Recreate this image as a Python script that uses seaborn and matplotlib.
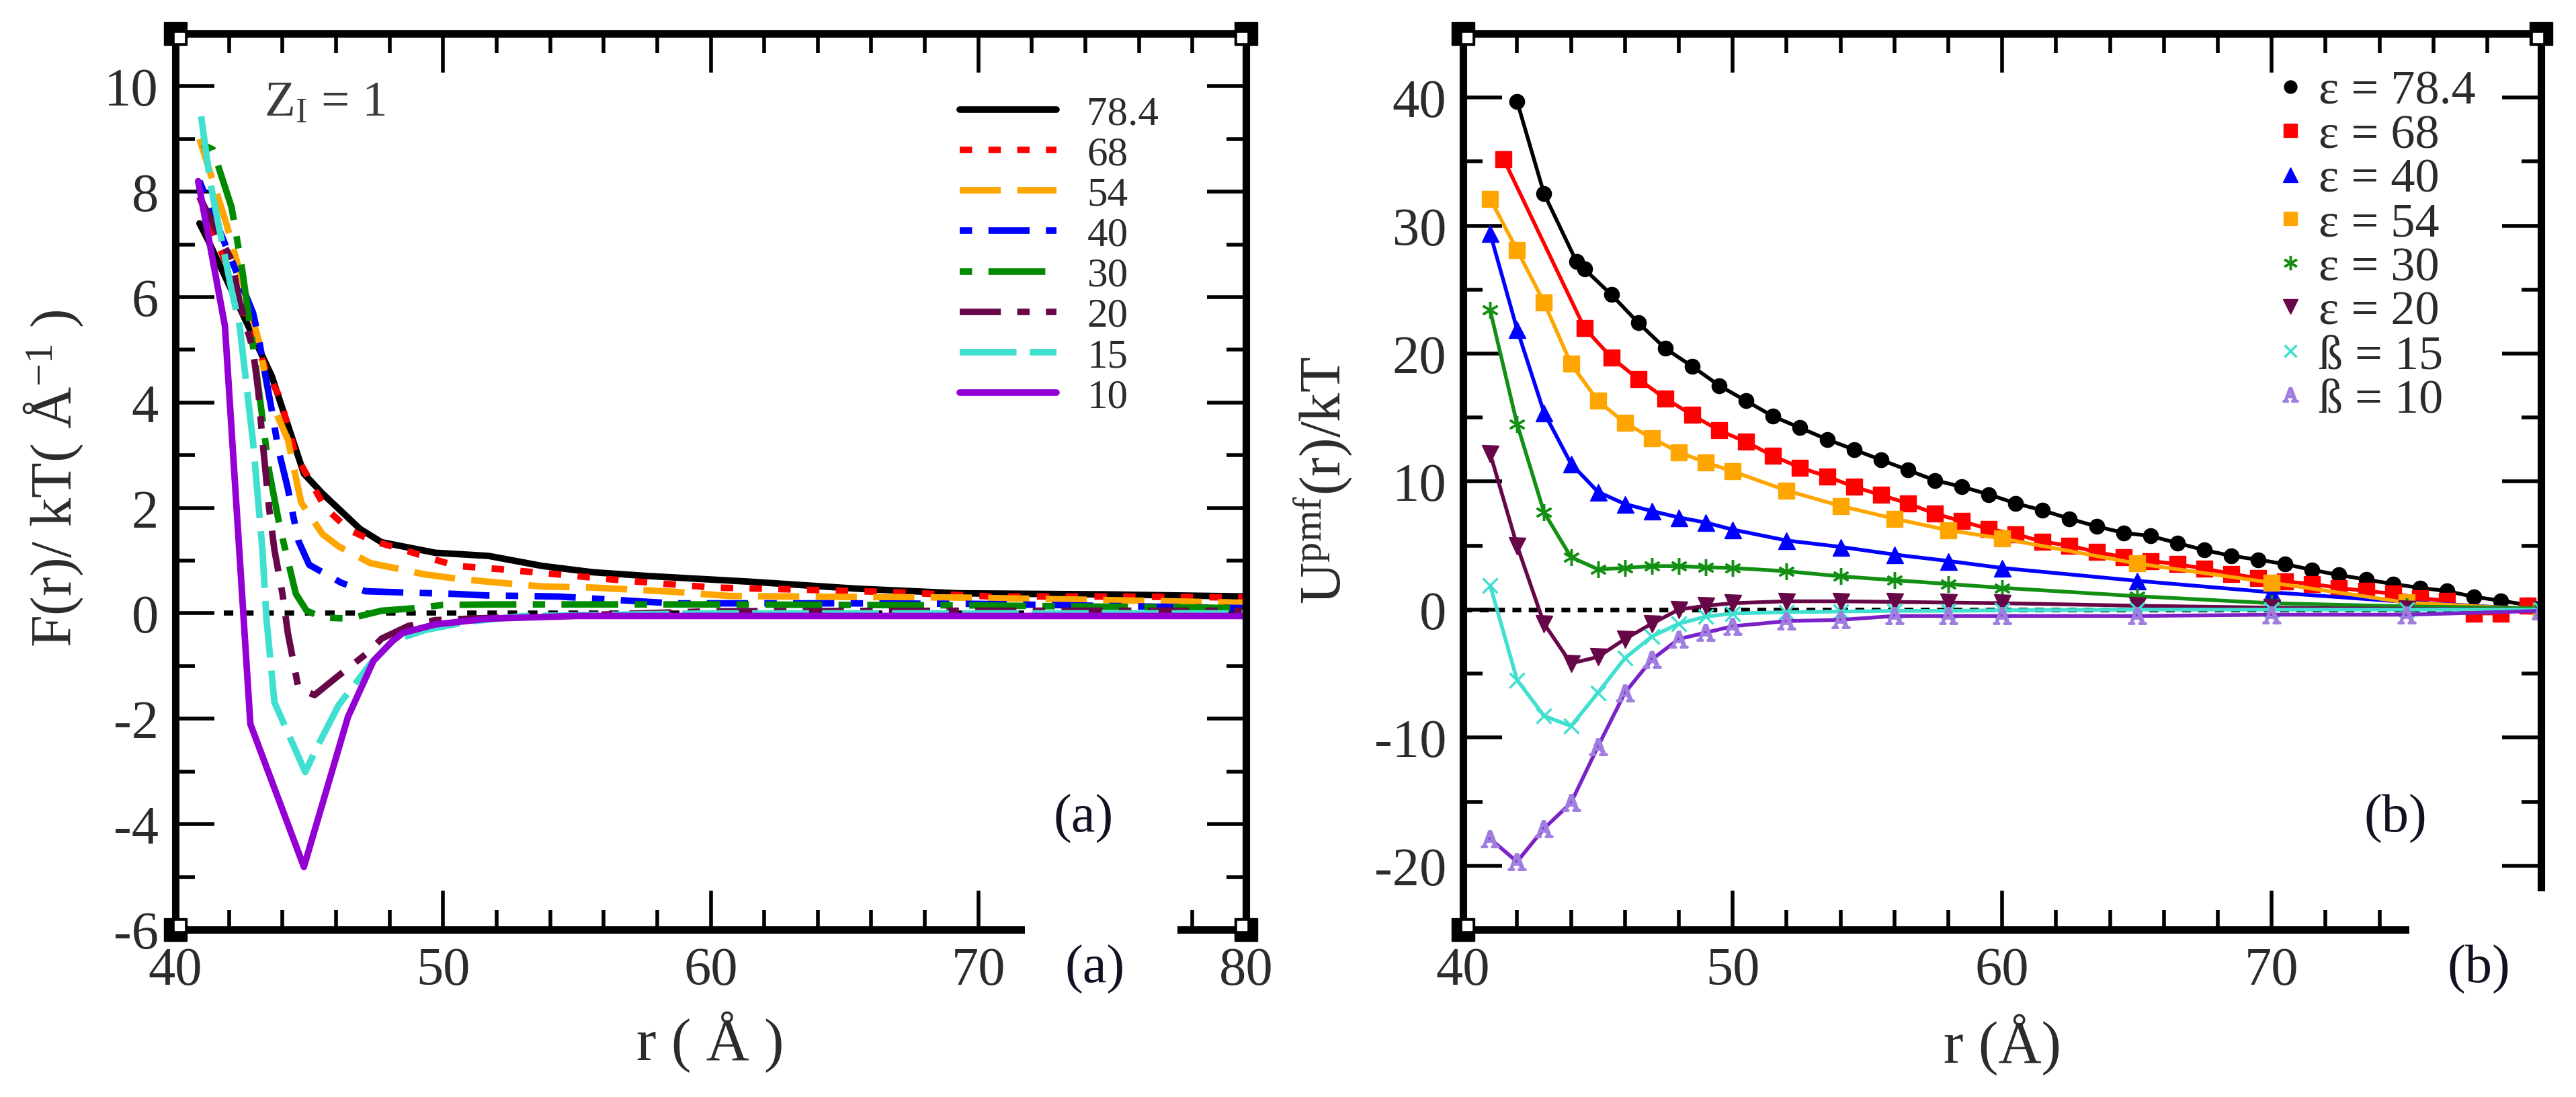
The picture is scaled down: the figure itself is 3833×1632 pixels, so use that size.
import matplotlib
matplotlib.use("Agg")
import matplotlib.pyplot as plt
import matplotlib.transforms as mtransforms
from matplotlib.lines import Line2D
from matplotlib.patches import Rectangle
from matplotlib.ticker import MultipleLocator
import seaborn as sns

# ---------------- panel (a): F(r)/kT, one curve per dielectric constant ----------------
eps_a = ["78.4", "68", "54", "40", "30", "20", "15", "10"]

r_a_784 = [40.9, 41.2, 42.4, 43.6, 44.8, 45.5, 46.9, 47.7, 49.7, 51.7, 53.7, 55.6, 57.6, 61.5, 65.4, 69.3, 74.8, 80.0]
F_a_784 = [7.4, 7.1, 5.8, 4.5, 2.65, 2.27, 1.6, 1.35, 1.15, 1.09, 0.9, 0.78, 0.71, 0.6, 0.47, 0.38, 0.36, 0.32]

r_a_68 = [40.9, 42.0, 43.4, 43.9, 44.5, 45.6, 46.5, 47.4, 48.5, 49.5, 50.5, 52.1, 54.5, 56.8, 60.1, 63.4, 66.9, 70.5, 75.2, 80.0]
F_a_68 = [7.9, 6.5, 4.6, 4.1, 3.0, 2.0, 1.58, 1.37, 1.21, 1.05, 0.9, 0.84, 0.73, 0.62, 0.49, 0.45, 0.4, 0.32, 0.32, 0.3]

r_a_54 = [40.9, 41.9, 43.1, 43.5, 44.2, 44.7, 45.5, 46.1, 47.3, 48.1, 49.3, 50.5, 51.7, 53.7, 55.6, 58.6, 60.7, 65.4, 69.3, 75.0, 80.0]
F_a_54 = [9.0, 7.4, 5.2, 4.1, 3.3, 2.1, 1.5, 1.27, 0.95, 0.87, 0.74, 0.66, 0.6, 0.51, 0.49, 0.41, 0.33, 0.31, 0.3, 0.25, 0.2]

r_a_40 = [40.9, 42.9, 43.1, 43.6, 43.85, 44.2, 44.4, 44.6, 45.0, 46.2, 47.1, 48.9, 50.4, 51.6, 54.3, 58.6, 65.0, 70.0, 80.0]
F_a_40 = [8.2, 5.7, 5.25, 3.85, 3.1, 2.37, 1.85, 1.37, 0.92, 0.58, 0.42, 0.39, 0.37, 0.34, 0.32, 0.19, 0.19, 0.18, 0.1]

r_a_30 = [41.0, 41.4, 42.1, 42.5, 43.0, 43.5, 43.9, 44.5, 44.9, 45.5, 46.5, 47.7, 49.0, 50.0, 52.0, 60.0, 70.0, 80.0]
F_a_30 = [8.9, 8.8, 7.7, 6.5, 4.7, 2.7, 1.64, 0.37, 0.05, -0.08, -0.1, 0.05, 0.1, 0.16, 0.17, 0.17, 0.15, 0.1]

r_a_20 = [40.9, 42.1, 42.4, 42.9, 43.1, 43.25, 43.5, 43.7, 44.0, 44.2, 44.6, 45.2, 46.0, 47.2, 47.7, 48.7, 49.7, 51.0, 60.0, 70.0, 80.0]
F_a_20 = [7.9, 6.7, 5.9, 5.0, 4.2, 3.3, 2.0, 1.2, 0.37, -0.37, -1.43, -1.55, -1.22, -0.74, -0.48, -0.24, -0.13, -0.1, 0.04, 0.05, 0.05]

r_a_15 = [40.96, 41.3, 41.6, 42.1, 42.4, 42.9, 43.25, 43.4, 43.7, 44.85, 45.3, 46.1, 47.3, 48.1, 49.3, 50.9, 53.0, 60.0, 80.0]
F_a_15 = [9.43, 8.18, 7.4, 6.13, 5.45, 3.25, 1.21, -0.1, -1.69, -3.01, -2.53, -1.74, -0.95, -0.53, -0.32, -0.16, -0.05, 0.0, 0.0]

r_a_10 = [40.85, 41.85, 42.8, 44.8, 46.45, 47.4, 48.1, 48.5, 49.7, 51.7, 55.0, 80.0]
F_a_10 = [8.2, 5.45, -2.1, -4.81, -1.96, -0.9, -0.53, -0.37, -0.21, -0.1, -0.05, -0.05]

# ---------------- panel (b): U_pmf(r)/kT ----------------
eps_b = ["\u03b5 = 78.4", "\u03b5 = 68", "\u03b5 = 40", "\u03b5 = 54",
         "\u03b5 = 30", "\u03b5 = 20", "\u00df = 15", "\u00df = 10"]

r_b_784 = [42, 43, 44.2, 44.5, 45.5, 46.5, 47.5, 48.5, 49.5, 50.5, 51.5, 52.5, 53.5, 54.5, 55.5, 56.5,
           57.5, 58.5, 59.5, 60.5, 61.5, 62.5, 63.5, 64.5, 65.5, 66.5, 67.5, 68.5, 69.5, 70.5,
           71.5, 72.5, 73.5, 74.5, 75.5, 76.5, 77.5, 78.5, 79.5, 80]
U_b_784 = [39.7, 32.5, 27.2, 26.6, 24.6, 22.4, 20.4, 19.0, 17.5, 16.3, 15.1, 14.2, 13.3, 12.5, 11.7, 10.9,
           10.1, 9.6, 9.0, 8.3, 7.75, 7.1, 6.5, 6.0, 5.75, 5.2, 4.65, 4.2, 3.9, 3.55,
           3.1, 2.7, 2.35, 2.0, 1.7, 1.45, 1.0, 0.7, 0.35, 0.0]

r_b_68 = [41.5, 44.5, 45.5, 46.5, 47.5, 48.5, 49.5, 50.5, 51.5, 52.5, 53.5, 54.5, 55.5, 56.5,
          57.5, 58.5, 59.5, 60.5, 61.5, 62.5, 63.5, 64.5, 65.5, 66.5, 67.5, 68.5, 69.5, 70.5,
          71.5, 72.5, 73.5, 74.5, 75.5, 76.5, 77.5, 78.5, 79.5, 80]
U_b_68 = [35.2, 22.0, 19.7, 18.0, 16.5, 15.2, 14.0, 13.1, 12.0, 11.1, 10.4, 9.6, 8.95, 8.3,
          7.5, 6.9, 6.3, 5.9, 5.3, 5.0, 4.5, 4.1, 3.8, 3.55, 3.2, 2.8, 2.45, 2.2,
          2.0, 1.7, 1.45, 1.25, 0.9, 0.7, -0.3, -0.3, 0.3, 0.0]

r_b = [41, 42, 43, 44, 45, 46, 47, 48, 49, 50, 52, 54, 56, 58, 60, 65, 70, 75, 80]
U_b_54 = [32.1, 28.1, 24.0, 19.2, 16.3, 14.6, 13.4, 12.3, 11.5, 10.8, 9.3, 8.1, 7.1, 6.2, 5.55, 3.6, 2.1, 0.55, 0.0]
U_b_40 = [29.4, 21.9, 15.4, 11.4, 9.2, 8.25, 7.7, 7.2, 6.8, 6.25, 5.4, 4.9, 4.3, 3.8, 3.25, 2.25, 1.35, 0.6, 0.0]
U_b_30 = [23.4, 14.5, 7.6, 4.1, 3.15, 3.25, 3.4, 3.4, 3.3, 3.25, 3.0, 2.6, 2.3, 2.0, 1.7, 1.05, 0.5, 0.25, 0.1]
U_b_20 = [12.2, 5.0, -1.1, -4.2, -3.7, -2.3, -1.1, 0.0, 0.3, 0.5, 0.65, 0.65, 0.6, 0.55, 0.5, 0.3, 0.15, 0.05, 0.0]
U_b_15 = [1.9, -5.5, -8.3, -9.1, -6.5, -3.8, -2.1, -1.1, -0.55, -0.3, -0.2, -0.15, -0.1, -0.1, -0.05, 0.0, 0.0, 0.0, 0.0]
U_b_10 = [-17.9, -19.7, -17.1, -15.1, -10.7, -6.5, -3.9, -2.3, -1.8, -1.3, -0.9, -0.8, -0.5, -0.5, -0.5, -0.5, -0.4, -0.4, -0.1]

# ---------------- style ----------------
sns.set_style("ticks")
plt.rcParams["font.family"] = ["Liberation Serif", "DejaVu Serif"]
plt.rcParams["mathtext.fontset"] = "custom"
plt.rcParams["mathtext.rm"] = "Liberation Serif"
plt.rcParams["mathtext.it"] = "Liberation Serif:italic"
plt.rcParams["axes.unicode_minus"] = False

TXT = "#2b2b2b"
fig = plt.figure(figsize=(38.33, 16.33), dpi=100)
ax_a = fig.add_axes([0.0681, 0.1525, 0.4156, 0.8163])
ax_b = fig.add_axes([0.5680, 0.1525, 0.4185, 0.8163])


def grace_axes(ax, ymajor, yminor):
    for sp in ax.spines.values():
        sp.set_visible(True)
        sp.set_linewidth(8)
        sp.set_color("black")
    ax.xaxis.set_major_locator(MultipleLocator(10))
    ax.xaxis.set_minor_locator(MultipleLocator(2))
    ax.yaxis.set_major_locator(MultipleLocator(ymajor))
    ax.yaxis.set_minor_locator(MultipleLocator(yminor))
    ax.tick_params(which="both", direction="in", top=True, right=True, color="black")
    ax.tick_params(which="major", length=42, width=4, labelsize=58, pad=18, labelcolor=TXT)
    ax.tick_params(which="minor", length=21, width=4)
    ax.set_xlabel("")
    ax.set_ylabel("")


def corners(ax, pts):
    for cx, cy in pts:
        off = mtransforms.offset_copy(ax.transAxes, fig=fig, x=4 if cx == 0 else -4,
                                      y=-4 if cy == 1 else 4, units="points")
        ax.plot([cx], [cy], marker="s", ms=24, color="black", transform=ax.transAxes,
                clip_on=False, zorder=8)
        ax.plot([cx], [cy], marker="s", ms=10, color="white", transform=off,
                clip_on=False, zorder=9)


def draw(ax, x, y, **kw):
    sns.lineplot(x=x, y=y, ax=ax, estimator=None, sort=False, errorbar=None, legend=False, **kw)
    return ax.lines[-1]


# ---------------- panel (a) ----------------
ax_a.axhline(0, xmin=0.045, xmax=1, color="black", lw=5.5, linestyle=(0, (1.85, 2.1)), zorder=1)

lw_a = 7
series_a = [
    (r_a_784, F_a_784, "#000000", "-"),
    (r_a_68, F_a_68, "#ff0000", (0, (1.9, 2.5))),
    (r_a_54, F_a_54, "#ffa500", (0, (6.3, 2.5))),
    (r_a_40, F_a_40, "#0000ff", (0, (1.9, 2.5, 6.3, 2.5))),
    (r_a_30, F_a_30, "#008b00", (0, (1.9, 2.5, 8.7, 2.5))),
    (r_a_20, F_a_20, "#670748", (0, (6.3, 2.5, 1.9, 2.5))),
    (r_a_15, F_a_15, "#40e0d0", (0, (8.7, 2.0))),
    (r_a_10, F_a_10, "#9400d3", "-"),
]
lines_a = []
for x, y, c, ls in series_a:
    lines_a.append(draw(ax_a, x, y, color=c, linewidth=lw_a, linestyle=ls))

ax_a.set_xlim(40, 80)
ax_a.set_ylim(-6, 11)
grace_axes(ax_a, 2, 1)

ax_a.legend(handles=lines_a, labels=eps_a, loc="upper left", bbox_to_anchor=(0.7326, 0.931),
            frameon=False, fontsize=44, handlelength=2.36, handletextpad=0.74,
            labelspacing=0.07, borderpad=0, borderaxespad=0, labelcolor=TXT)

ax_a.text(0.083, 0.9085, r"Z$_{\rm I}$ = 1", transform=ax_a.transAxes, fontsize=54,
          color="#3c3c3c", ha="left", va="baseline")
ax_a.text(0.4997, -0.1245, "r ( \u00c5 )", transform=ax_a.transAxes, fontsize=64,
          color=TXT, ha="center", va="center")
ax_a.text(-0.1136, 0.504, r"F(r)/ kT( $\rm\AA^{-1}$ )", transform=ax_a.transAxes, fontsize=62,
          color=TXT, ha="center", va="center", rotation=90)
ax_a.text(0.848, 0.124, "(a)", transform=ax_a.transAxes, fontsize=58, color="#111122",
          ha="center", va="center")

# gap in the lower axis where the second "(a)" sits
blend_a = mtransforms.blended_transform_factory(ax_a.transData, ax_a.transAxes)
ax_a.add_patch(Rectangle((71.75, -0.07), 5.7, 0.1, transform=blend_a, facecolor="white",
                         edgecolor="none", clip_on=False, zorder=6))
ax_a.text(0.859, -0.0435, "(a)", transform=ax_a.transAxes, fontsize=58, color="#111122",
          ha="center", va="center", zorder=7)
corners(ax_a, [(0, 0), (0, 1), (1, 0), (1, 1)])

# ---------------- panel (b) ----------------
ax_b.axhline(0, color="black", lw=5, linestyle=(0, (1.9, 1.6)), zorder=1)

lw_b = 4
series_b = [
    (r_b_784, U_b_784, "#000000", "#000000", "o", 16),
    (r_b_68, U_b_68, "#ff0000", "#ff0000", "s", 17),
    (r_b, U_b_40, "#0000ff", "#0000ff", "^", 18),
    (r_b, U_b_54, "#ffa500", "#ffa500", "s", 17),
    (r_b, U_b_30, "#139013", "#139013", (6, 2, 0), 18),
    (r_b, U_b_20, "#670748", "#670748", "v", 18),
    (r_b, U_b_15, "#40e0d0", "#40e0d0", "x", 16),
    (r_b, U_b_10, "#7a22c8", "#a07ee0", r"$\mathrm{A}$", 18),
]
handles_b = []
for x, y, c, mc, mk, ms in series_b:
    mew = 2.5 if mk in ("x", (6, 2, 0)) or isinstance(mk, str) and mk.startswith("$") else 1
    draw(ax_b, x, y, color=c, linewidth=lw_b, marker=mk, markersize=ms,
         markerfacecolor=mc, markeredgecolor=mc, markeredgewidth=mew)
    handles_b.append(Line2D([], [], linestyle="none", marker=mk, markersize=ms * 0.85,
                            markerfacecolor=mc, markeredgecolor=mc, markeredgewidth=mew))

ax_b.set_xlim(40, 80)
ax_b.set_ylim(-25, 45)
grace_axes(ax_b, 10, 5)

ax_b.legend(handles=handles_b, labels=eps_b, loc="upper left", bbox_to_anchor=(0.754, 0.960),
            frameon=False, fontsize=52, handlelength=0.6, handletextpad=0.28,
            labelspacing=0.0, borderpad=0, borderaxespad=0, labelcolor=TXT)

ax_b.text(0.5, -0.1275, "r (\u00c5)", transform=ax_b.transAxes, fontsize=64,
          color=TXT, ha="center", va="center")
ax_b.text(-0.130, 0.502, r"U$^{\rm pmf}$(r)/kT", transform=ax_b.transAxes, fontsize=62,
          color=TXT, ha="center", va="center", rotation=90)
ax_b.text(0.865, 0.124, "(b)", transform=ax_b.transAxes, fontsize=58, color="#111122",
          ha="center", va="center")

# lower-right corner of panel (b) is cut away in the original figure
blend_b = mtransforms.blended_transform_factory(ax_b.transData, ax_b.transAxes)
ax_b.add_patch(Rectangle((75.1, -0.09), 6.5, 0.09 + 3 / 70, transform=blend_b,
                         facecolor="white", edgecolor="none", clip_on=False, zorder=6))
ax_b.text(0.942, -0.0435, "(b)", transform=ax_b.transAxes, fontsize=58, color="#111122",
          ha="center", va="center", zorder=7)
corners(ax_b, [(0, 0), (0, 1), (1, 1)])

fig.savefig("out.png", dpi=100, facecolor="white")
